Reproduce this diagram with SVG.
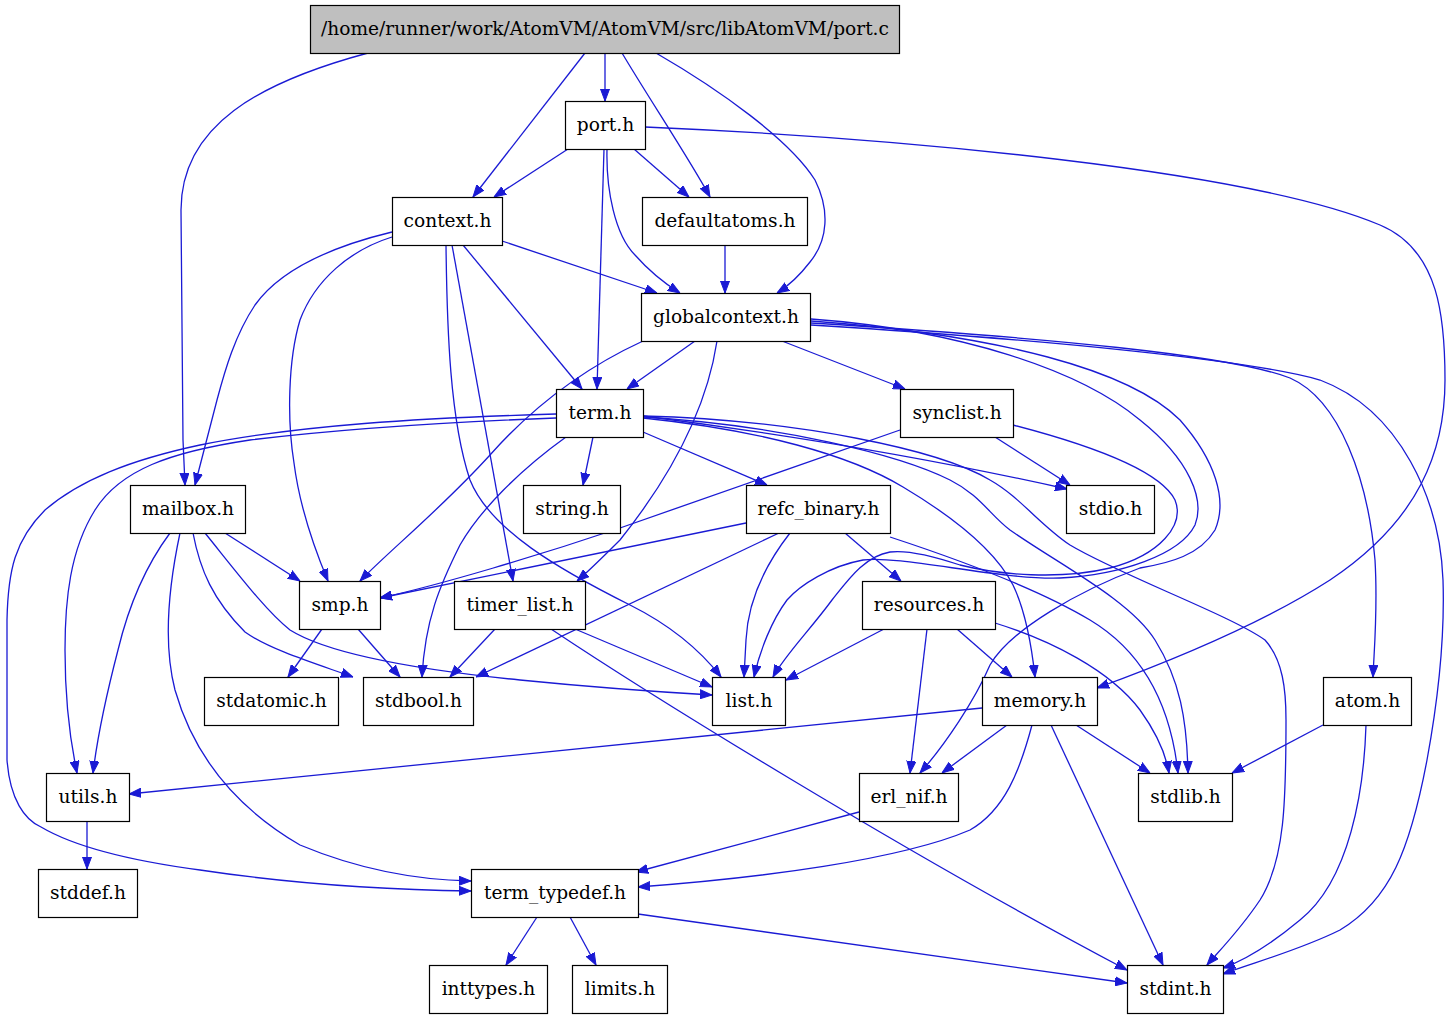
<svg xmlns="http://www.w3.org/2000/svg" width="1450" height="1019" viewBox="0 0 1450 1019">
<defs>
<style>
.n rect{fill:#fff;stroke:#000;stroke-width:1.2}
.n text{font-family:"DejaVu Serif",serif;font-size:18.6px;text-anchor:middle;fill:#000}
#edges path{fill:none;stroke:#1a1ad4;stroke-width:1.3;marker-end:url(#ah)}
</style>
<marker id="ah" viewBox="0 0 12 10" refX="12" refY="5" markerWidth="12" markerHeight="10" markerUnits="userSpaceOnUse" orient="auto">
<path d="M0,0.5 L12,5 L0,9.5 z" fill="#1a1ad4" stroke="#1a1ad4" stroke-width="1"/>
</marker>
</defs>
<rect width="1450" height="1019" fill="#fff"/>
<g id="edges">
<path d="M368,53 C260,82 181,125 181,210 L183,440 L185,485"/>
<path d="M585,53 L473,197"/>
<path d="M605,53 L605,101"/>
<path d="M622,53 C650,100 690,160 710,197"/>
<path d="M656,53 C720,90 790,140 815,180 C830,210 828,240 810,262 C800,275 790,285 777,293"/>
<path d="M568,149 L494,197"/>
<path d="M634,149 L689,197"/>
<path d="M607,149 C606,190 615,235 635,255 C650,272 667,285 680,293"/>
<path d="M604,149 L597,389"/>
<path d="M645,127 C900,138 1250,170 1380,225 C1440,250 1445,320 1445,380 C1445,450 1420,520 1330,580 C1260,625 1160,665 1097,688"/>
<path d="M502,241 L657,293"/>
<path d="M463,245 L582,389"/>
<path d="M392,232 C330,247 280,270 255,305 C235,335 225,370 217,400 L195,485"/>
<path d="M392,237 C350,250 315,280 300,320 C288,360 287,420 294,463 C300,510 315,550 328,581"/>
<path d="M452,245 L513,581"/>
<path d="M446,245 C447,330 450,420 470,480 C490,530 560,570 630,605 C670,625 700,650 721,677"/>
<path d="M725,245 L725,293"/>
<path d="M695,341 L627,389"/>
<path d="M782,341 L905,389"/>
<path d="M643,341 C580,370 530,410 490,455 C440,510 390,550 360,581"/>
<path d="M717,341 C705,420 660,490 620,540 C605,555 590,570 577,581"/>
<path d="M811,319 C960,330 1080,370 1140,420 C1190,460 1205,500 1195,525 C1180,555 1120,575 1060,578 C1000,580 900,555 863,560 C830,566 800,585 787,600 C772,620 760,650 754,677"/>
<path d="M811,321 C1000,335 1130,370 1180,420 C1215,460 1228,500 1215,530 C1200,555 1170,563 1140,568 C1080,590 1010,630 990,665 C975,700 945,745 920,773"/>
<path d="M811,323 C1050,338 1230,355 1290,378 C1340,400 1368,480 1375,560 C1378,610 1374,650 1373,677"/>
<path d="M811,325 C1050,340 1250,360 1320,380 C1400,410 1440,500 1443,580 C1445,640 1438,700 1427,760 C1410,850 1390,900 1340,930 C1300,950 1255,962 1223,974"/>
<path d="M593,437 L583,485"/>
<path d="M643,432 L767,485"/>
<path d="M643,416 C830,440 960,465 1067,489"/>
<path d="M566,437 C520,470 480,510 460,545 C440,585 425,620 422,677"/>
<path d="M556,418 C450,422 350,428 250,440 C170,452 120,470 95,510 C70,550 65,600 65,650 C65,700 70,740 77,773"/>
<path d="M556,414 C420,418 300,425 200,445 C130,460 80,480 45,510 C15,540 8,570 7,620 L7,760 C10,800 25,820 41,827 C80,850 140,862 200,870 C300,885 400,890 471,891"/>
<path d="M643,418 C760,430 850,455 903,487 C950,515 995,550 1013,585 C1025,610 1031,640 1035,677"/>
<path d="M643,417 C780,425 900,455 950,480 C980,495 990,515 1010,530 C1060,565 1130,600 1155,640 C1180,680 1187,720 1188,773"/>
<path d="M643,416 C800,420 940,450 990,480 C1020,497 1040,525 1070,545 C1120,575 1230,615 1265,640 C1283,660 1286,690 1286,720 C1286,800 1285,860 1260,900 C1240,930 1220,950 1207,965"/>
<path d="M995,437 L1070,485"/>
<path d="M900,430 C800,465 700,500 620,528 C540,555 440,585 380,598"/>
<path d="M1013,425 C1090,445 1160,470 1175,500 C1185,525 1160,555 1110,568 C1060,580 1000,575 960,565 C930,555 905,550 890,552 C865,556 848,580 832,600 C810,630 785,655 773,677"/>
<path d="M225,533 L300,581"/>
<path d="M170,533 C150,560 130,600 118,650 C105,700 97,740 93,773"/>
<path d="M180,533 C170,580 162,640 175,690 C195,760 240,810 300,845 C360,870 420,880 471,881"/>
<path d="M193,533 C200,570 213,600 245,632 C270,650 320,665 353,677"/>
<path d="M205,533 C235,570 265,610 290,630 C330,655 420,670 520,680 C600,688 660,692 712,695"/>
<path d="M746,523 L380,598"/>
<path d="M779,533 L476,677"/>
<path d="M790,533 C765,565 748,600 746,640 L744,677"/>
<path d="M845,533 L901,581"/>
<path d="M890,537 C960,560 1040,590 1090,620 C1140,650 1170,700 1178,773"/>
<path d="M322,629 L288,677"/>
<path d="M358,629 L400,677"/>
<path d="M495,629 L450,677"/>
<path d="M575,629 L712,687"/>
<path d="M551,629 C650,695 900,850 1127,970"/>
<path d="M884,629 L786,680"/>
<path d="M957,629 L1012,677"/>
<path d="M927,629 L910,773"/>
<path d="M995,623 C1050,640 1110,670 1140,710 C1158,735 1166,755 1169,773"/>
<path d="M982,708 L129,794"/>
<path d="M1007,725 L942,773"/>
<path d="M1076,725 L1150,773"/>
<path d="M1051,725 L1163,965"/>
<path d="M1032,725 C1020,770 1005,810 970,830 C900,860 760,878 638,887"/>
<path d="M1323,725 L1232,773"/>
<path d="M1366,725 C1364,790 1350,880 1300,920 C1270,945 1245,960 1223,968"/>
<path d="M859,812 L636,872"/>
<path d="M87,821 L87,869"/>
<path d="M537,917 L506,965"/>
<path d="M570,917 L596,965"/>
<path d="M638,914 L1127,983"/>
</g>
<g id="port_c" class="n"><rect x="310.5" y="5.5" width="589" height="48" style="fill:#bfbfbf"/><text x="605" y="35">/home/runner/work/AtomVM/AtomVM/src/libAtomVM/port.c</text></g>
<g id="port_h" class="n"><rect x="565.5" y="101.5" width="80" height="48"/><text x="605.5" y="131">port.h</text></g>
<g id="context_h" class="n"><rect x="392.5" y="197.5" width="110" height="48"/><text x="447.5" y="227">context.h</text></g>
<g id="defaultatoms_h" class="n"><rect x="642.5" y="197.5" width="165" height="48"/><text x="725" y="227">defaultatoms.h</text></g>
<g id="globalcontext_h" class="n"><rect x="641.5" y="293.5" width="169" height="48"/><text x="726" y="323">globalcontext.h</text></g>
<g id="term_h" class="n"><rect x="556.5" y="389.5" width="87" height="48"/><text x="600" y="419">term.h</text></g>
<g id="synclist_h" class="n"><rect x="900.5" y="389.5" width="113" height="48"/><text x="957" y="419">synclist.h</text></g>
<g id="mailbox_h" class="n"><rect x="130.5" y="485.5" width="115" height="48"/><text x="188" y="515">mailbox.h</text></g>
<g id="string_h" class="n"><rect x="523.5" y="485.5" width="97" height="48"/><text x="572" y="515">string.h</text></g>
<g id="refc_binary_h" class="n"><rect x="746.5" y="485.5" width="144" height="48"/><text x="818.5" y="515">refc_binary.h</text></g>
<g id="stdio_h" class="n"><rect x="1066.5" y="485.5" width="88" height="48"/><text x="1110.5" y="515">stdio.h</text></g>
<g id="smp_h" class="n"><rect x="299.5" y="581.5" width="81" height="48"/><text x="340" y="611">smp.h</text></g>
<g id="timer_list_h" class="n"><rect x="454.5" y="581.5" width="131" height="48"/><text x="520" y="611">timer_list.h</text></g>
<g id="resources_h" class="n"><rect x="862.5" y="581.5" width="133" height="48"/><text x="929" y="611">resources.h</text></g>
<g id="stdatomic_h" class="n"><rect x="204.5" y="677.5" width="134" height="48"/><text x="271.5" y="707">stdatomic.h</text></g>
<g id="stdbool_h" class="n"><rect x="363.5" y="677.5" width="110" height="48"/><text x="418.5" y="707">stdbool.h</text></g>
<g id="list_h" class="n"><rect x="712.5" y="677.5" width="73" height="48"/><text x="749" y="707">list.h</text></g>
<g id="memory_h" class="n"><rect x="982.5" y="677.5" width="115" height="48"/><text x="1040" y="707">memory.h</text></g>
<g id="atom_h" class="n"><rect x="1323.5" y="677.5" width="88" height="48"/><text x="1367.5" y="707">atom.h</text></g>
<g id="utils_h" class="n"><rect x="46.5" y="773.5" width="83" height="48"/><text x="88" y="803">utils.h</text></g>
<g id="erl_nif_h" class="n"><rect x="859.5" y="773.5" width="99" height="48"/><text x="909" y="803">erl_nif.h</text></g>
<g id="stdlib_h" class="n"><rect x="1138.5" y="773.5" width="94" height="48"/><text x="1185.5" y="803">stdlib.h</text></g>
<g id="stddef_h" class="n"><rect x="38.5" y="869.5" width="99" height="48"/><text x="88" y="899">stddef.h</text></g>
<g id="term_typedef_h" class="n"><rect x="471.5" y="869.5" width="167" height="48"/><text x="555" y="899">term_typedef.h</text></g>
<g id="inttypes_h" class="n"><rect x="429.5" y="965.5" width="118" height="48"/><text x="488.5" y="995">inttypes.h</text></g>
<g id="limits_h" class="n"><rect x="572.5" y="965.5" width="95" height="48"/><text x="620" y="995">limits.h</text></g>
<g id="stdint_h" class="n"><rect x="1127.5" y="965.5" width="96" height="48"/><text x="1175.5" y="995">stdint.h</text></g>
</svg>
